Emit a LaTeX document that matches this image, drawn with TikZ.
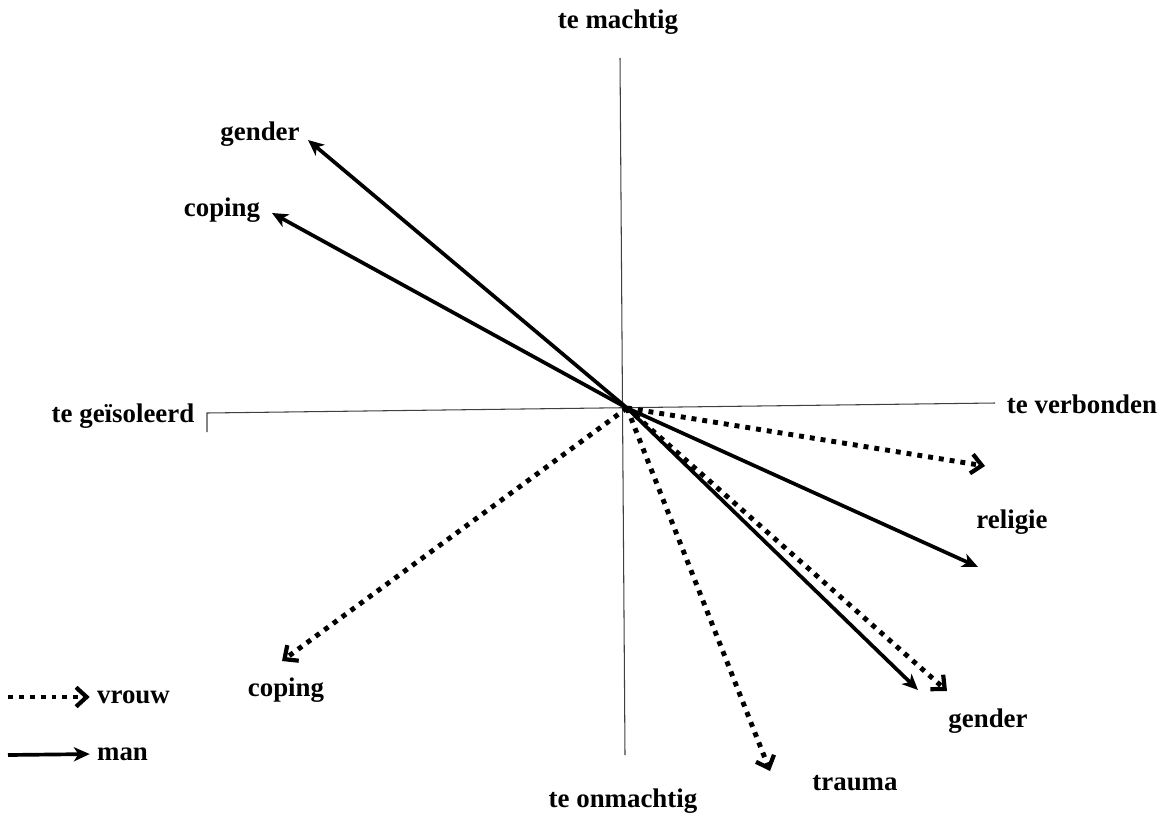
\documentclass[tikz,border=0pt]{standalone}
\usepackage{fontspec}
\setmainfont{Liberation Serif}
\usetikzlibrary{arrows.meta}
\begin{document}
\begin{tikzpicture}[x=0.02cm,y=-0.02cm,
  lbl/.style={font=\fontsize{15.3}{17}\selectfont\bfseries, inner sep=1pt},
  axis/.style={draw=black!75, line width=0.6pt},
  man/.style={line width=2.1pt, -{Stealth[length=9pt,width=8pt,inset=2.5pt]}},
  vrouw/.style={line width=2.8pt, dash pattern=on 2.8pt off 3.4pt, -{Straight Barb[length=6pt,width=11pt,line width=2.4pt]}}]
\useasboundingbox (0,0) rectangle (1165,818);
% axes
\coordinate (c) at (627,408);
\coordinate (vt) at (620,58);
\coordinate (vb) at (625,755);
\coordinate (hl) at (207,413);
\coordinate (hr) at (995,403);
\coordinate (hlt) at (207,432);
\draw[axis] (vt) -- (vb);
\draw[axis] (hlt) -- (hl) -- (hr);
\node[lbl] (tm) at (618,22) {te machtig};
\node[lbl] (to) at (623,801) {te onmachtig};
\node[lbl] (tv) at (1082,404) {te verbonden};
\node[lbl] (tg) at (123,416) {te geïsoleerd};
% endpoints
\coordinate (mg) at (308,140);
\coordinate (mc) at (272,213);
\coordinate (mr) at (978,567);
\coordinate (mg2) at (918,690);
\coordinate (vr) at (985,466);
\coordinate (vc) at (282,661);
\coordinate (vg) at (947,691);
\coordinate (vt2) at (770,771);
% labels
\node[lbl] (lmg) at (260,134) {gender};
\node[lbl] (lmc) at (222,210) {coping};
\node[lbl] (lmr) at (1012,522) {religie};
\node[lbl] (lvc) at (286,690) {coping};
\node[lbl] (lvg) at (988,721) {gender};
\node[lbl] (lvt) at (855,783) {trauma};
% arrows
\draw[man] (c) -- (mg);
\draw[man] (c) -- (mc);
\draw[man] (c) -- (mr);
\draw[man] (c) -- (mg2);
\draw[vrouw] (c) -- (vr);
\draw[vrouw] (c) -- (vc);
\draw[vrouw] (c) -- (vg);
\draw[vrouw] (c) -- (vt2);
% legend
\node[lbl, anchor=west] (lv) at (95,697) {vrouw};
\node[lbl, anchor=west] (lm) at (95,754) {man};
\coordinate (lvs) at (8,697);
\coordinate (lms) at (8,755);
\draw[vrouw, shorten >=3pt] (lvs) -- (lv.west);
\draw[man, shorten >=3pt] (lms) -- (lm.west);
\end{tikzpicture}
\end{document}
